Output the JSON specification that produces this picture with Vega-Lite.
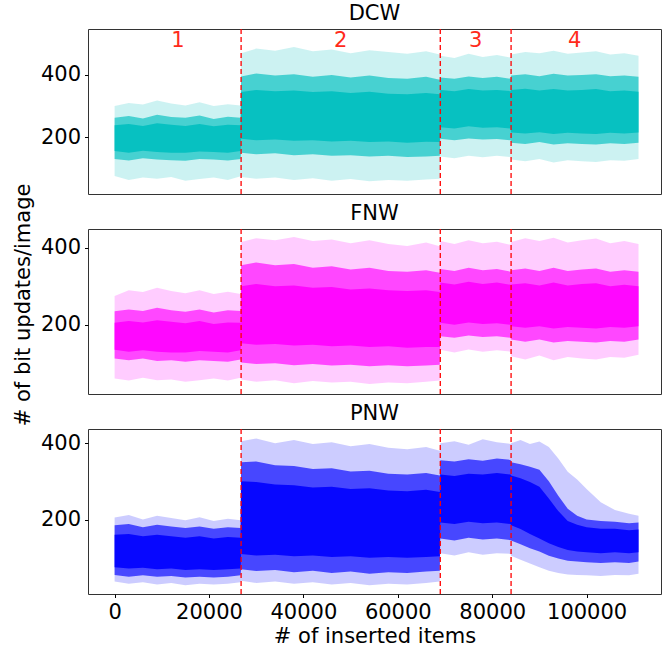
{
  "$schema": "https://vega.github.io/schema/vega-lite/v6.json",
  "autosize": {"type": "pad"},
  "padding": {"left": 12, "top": 2, "right": 0, "bottom": 0},
  "spacing": 6,
  "title": {"text": "# of bit updates/image", "orient": "left", "anchor": "middle", "fontSize": 21, "fontWeight": "normal", "font": "DejaVu Sans", "color": "#000000", "offset": 6, "dx": 20},
  "config": {
    "font": "DejaVu Sans",
    "view": {"stroke": "#333333", "strokeWidth": 1},
    "axis": {"labelFont": "DejaVu Sans", "labelFontSize": 21, "labelColor": "#000000", "tickColor": "#000000", "tickSize": 3.5, "tickWidth": 1, "domain": false, "grid": false, "titleFont": "DejaVu Sans", "titleFontSize": 21, "titleFontWeight": "normal", "titleColor": "#000000", "labelPadding": 4, "labelFlush": false},
    "title": {"font": "DejaVu Sans", "fontSize": 21, "fontWeight": "normal", "color": "#000000", "offset": 0}
  },
  "datasets": {
    "bands": [
      {"p":"DCW","x":0,"fhi":300,"mhi":262,"chi":238,"clo":155,"mlo":130,"flo":75},
      {"p":"DCW","x":3000,"fhi":310,"mhi":268,"chi":242,"clo":150,"mlo":125,"flo":62},
      {"p":"DCW","x":6000,"fhi":305,"mhi":260,"chi":236,"clo":156,"mlo":132,"flo":70},
      {"p":"DCW","x":9000,"fhi":318,"mhi":272,"chi":245,"clo":152,"mlo":128,"flo":66},
      {"p":"DCW","x":12000,"fhi":308,"mhi":265,"chi":240,"clo":150,"mlo":126,"flo":72},
      {"p":"DCW","x":15000,"fhi":302,"mhi":262,"chi":236,"clo":150,"mlo":124,"flo":60},
      {"p":"DCW","x":18000,"fhi":312,"mhi":270,"chi":242,"clo":154,"mlo":130,"flo":65},
      {"p":"DCW","x":21000,"fhi":300,"mhi":258,"chi":235,"clo":152,"mlo":128,"flo":70},
      {"p":"DCW","x":24000,"fhi":306,"mhi":266,"chi":240,"clo":150,"mlo":125,"flo":62},
      {"p":"DCW","x":26700,"fhi":302,"mhi":262,"chi":238,"clo":155,"mlo":130,"flo":74},
      {"p":"DCW","x":26800,"fhi":470,"mhi":395,"chi":345,"clo":195,"mlo":150,"flo":72},
      {"p":"DCW","x":30000,"fhi":485,"mhi":405,"chi":352,"clo":190,"mlo":145,"flo":66},
      {"p":"DCW","x":34000,"fhi":478,"mhi":398,"chi":348,"clo":192,"mlo":148,"flo":70},
      {"p":"DCW","x":38000,"fhi":490,"mhi":402,"chi":350,"clo":188,"mlo":142,"flo":62},
      {"p":"DCW","x":42000,"fhi":476,"mhi":394,"chi":345,"clo":190,"mlo":145,"flo":68},
      {"p":"DCW","x":46000,"fhi":482,"mhi":400,"chi":348,"clo":186,"mlo":140,"flo":60},
      {"p":"DCW","x":50000,"fhi":470,"mhi":392,"chi":342,"clo":188,"mlo":142,"flo":65},
      {"p":"DCW","x":54000,"fhi":480,"mhi":398,"chi":346,"clo":184,"mlo":138,"flo":58},
      {"p":"DCW","x":58000,"fhi":474,"mhi":390,"chi":340,"clo":186,"mlo":140,"flo":62},
      {"p":"DCW","x":62000,"fhi":468,"mhi":388,"chi":338,"clo":182,"mlo":136,"flo":60},
      {"p":"DCW","x":66000,"fhi":476,"mhi":394,"chi":342,"clo":185,"mlo":138,"flo":64},
      {"p":"DCW","x":68900,"fhi":466,"mhi":385,"chi":338,"clo":184,"mlo":140,"flo":66},
      {"p":"DCW","x":69000,"fhi":462,"mhi":392,"chi":352,"clo":232,"mlo":195,"flo":138},
      {"p":"DCW","x":72000,"fhi":455,"mhi":388,"chi":348,"clo":228,"mlo":190,"flo":132},
      {"p":"DCW","x":75000,"fhi":468,"mhi":395,"chi":355,"clo":235,"mlo":196,"flo":140},
      {"p":"DCW","x":78000,"fhi":458,"mhi":390,"chi":350,"clo":230,"mlo":192,"flo":135},
      {"p":"DCW","x":81000,"fhi":464,"mhi":394,"chi":352,"clo":232,"mlo":194,"flo":140},
      {"p":"DCW","x":83900,"fhi":456,"mhi":388,"chi":348,"clo":228,"mlo":190,"flo":136},
      {"p":"DCW","x":84000,"fhi":466,"mhi":398,"chi":352,"clo":215,"mlo":182,"flo":128},
      {"p":"DCW","x":87000,"fhi":474,"mhi":402,"chi":356,"clo":212,"mlo":178,"flo":122},
      {"p":"DCW","x":90000,"fhi":470,"mhi":396,"chi":350,"clo":216,"mlo":184,"flo":130},
      {"p":"DCW","x":93000,"fhi":478,"mhi":404,"chi":355,"clo":210,"mlo":176,"flo":118},
      {"p":"DCW","x":96000,"fhi":468,"mhi":398,"chi":350,"clo":214,"mlo":180,"flo":126},
      {"p":"DCW","x":99000,"fhi":472,"mhi":400,"chi":352,"clo":212,"mlo":178,"flo":122},
      {"p":"DCW","x":102000,"fhi":476,"mhi":402,"chi":355,"clo":210,"mlo":176,"flo":120},
      {"p":"DCW","x":105000,"fhi":466,"mhi":396,"chi":348,"clo":214,"mlo":180,"flo":126},
      {"p":"DCW","x":108000,"fhi":470,"mhi":398,"chi":350,"clo":212,"mlo":178,"flo":124},
      {"p":"DCW","x":111000,"fhi":462,"mhi":394,"chi":346,"clo":215,"mlo":182,"flo":130},

      {"p":"FNW","x":0,"fhi":275,"mhi":235,"chi":205,"clo":135,"mlo":112,"flo":60},
      {"p":"FNW","x":3000,"fhi":290,"mhi":240,"chi":210,"clo":130,"mlo":108,"flo":55},
      {"p":"FNW","x":6000,"fhi":285,"mhi":236,"chi":206,"clo":134,"mlo":112,"flo":62},
      {"p":"FNW","x":9000,"fhi":296,"mhi":244,"chi":212,"clo":130,"mlo":106,"flo":56},
      {"p":"FNW","x":12000,"fhi":288,"mhi":238,"chi":208,"clo":128,"mlo":108,"flo":58},
      {"p":"FNW","x":15000,"fhi":282,"mhi":234,"chi":204,"clo":128,"mlo":104,"flo":52},
      {"p":"FNW","x":18000,"fhi":290,"mhi":240,"chi":210,"clo":132,"mlo":108,"flo":56},
      {"p":"FNW","x":21000,"fhi":280,"mhi":232,"chi":202,"clo":130,"mlo":106,"flo":60},
      {"p":"FNW","x":24000,"fhi":286,"mhi":238,"chi":206,"clo":128,"mlo":104,"flo":55},
      {"p":"FNW","x":26700,"fhi":280,"mhi":236,"chi":205,"clo":134,"mlo":110,"flo":62},
      {"p":"FNW","x":26800,"fhi":415,"mhi":355,"chi":300,"clo":152,"mlo":102,"flo":58},
      {"p":"FNW","x":30000,"fhi":425,"mhi":362,"chi":306,"clo":148,"mlo":98,"flo":52},
      {"p":"FNW","x":34000,"fhi":420,"mhi":355,"chi":300,"clo":150,"mlo":100,"flo":56},
      {"p":"FNW","x":38000,"fhi":428,"mhi":358,"chi":302,"clo":146,"mlo":95,"flo":48},
      {"p":"FNW","x":42000,"fhi":418,"mhi":348,"chi":296,"clo":148,"mlo":98,"flo":54},
      {"p":"FNW","x":46000,"fhi":422,"mhi":352,"chi":298,"clo":144,"mlo":94,"flo":50},
      {"p":"FNW","x":50000,"fhi":412,"mhi":344,"chi":292,"clo":146,"mlo":96,"flo":52},
      {"p":"FNW","x":54000,"fhi":420,"mhi":348,"chi":294,"clo":142,"mlo":92,"flo":46},
      {"p":"FNW","x":58000,"fhi":410,"mhi":340,"chi":290,"clo":144,"mlo":95,"flo":50},
      {"p":"FNW","x":62000,"fhi":405,"mhi":338,"chi":288,"clo":140,"mlo":92,"flo":48},
      {"p":"FNW","x":66000,"fhi":414,"mhi":342,"chi":290,"clo":142,"mlo":94,"flo":52},
      {"p":"FNW","x":68900,"fhi":404,"mhi":335,"chi":285,"clo":142,"mlo":96,"flo":55},
      {"p":"FNW","x":69000,"fhi":418,"mhi":345,"chi":310,"clo":205,"mlo":170,"flo":135},
      {"p":"FNW","x":72000,"fhi":410,"mhi":340,"chi":305,"clo":200,"mlo":166,"flo":128},
      {"p":"FNW","x":75000,"fhi":420,"mhi":348,"chi":312,"clo":206,"mlo":172,"flo":136},
      {"p":"FNW","x":78000,"fhi":412,"mhi":342,"chi":306,"clo":202,"mlo":168,"flo":130},
      {"p":"FNW","x":81000,"fhi":416,"mhi":345,"chi":310,"clo":204,"mlo":170,"flo":134},
      {"p":"FNW","x":83900,"fhi":408,"mhi":338,"chi":304,"clo":200,"mlo":166,"flo":130},
      {"p":"FNW","x":84000,"fhi":415,"mhi":342,"chi":305,"clo":196,"mlo":162,"flo":118},
      {"p":"FNW","x":87000,"fhi":425,"mhi":346,"chi":308,"clo":192,"mlo":156,"flo":110},
      {"p":"FNW","x":90000,"fhi":418,"mhi":340,"chi":302,"clo":196,"mlo":162,"flo":120},
      {"p":"FNW","x":93000,"fhi":426,"mhi":348,"chi":310,"clo":190,"mlo":154,"flo":108},
      {"p":"FNW","x":96000,"fhi":414,"mhi":340,"chi":302,"clo":194,"mlo":158,"flo":116},
      {"p":"FNW","x":99000,"fhi":420,"mhi":344,"chi":306,"clo":192,"mlo":156,"flo":112},
      {"p":"FNW","x":102000,"fhi":424,"mhi":346,"chi":308,"clo":190,"mlo":154,"flo":110},
      {"p":"FNW","x":105000,"fhi":412,"mhi":338,"chi":300,"clo":194,"mlo":158,"flo":116},
      {"p":"FNW","x":108000,"fhi":418,"mhi":342,"chi":304,"clo":192,"mlo":156,"flo":114},
      {"p":"FNW","x":111000,"fhi":410,"mhi":338,"chi":300,"clo":196,"mlo":162,"flo":122},

      {"p":"PNW","x":0,"fhi":205,"mhi":185,"chi":160,"clo":75,"mlo":55,"flo":38},
      {"p":"PNW","x":3000,"fhi":212,"mhi":188,"chi":162,"clo":72,"mlo":50,"flo":32},
      {"p":"PNW","x":6000,"fhi":200,"mhi":180,"chi":156,"clo":74,"mlo":54,"flo":36},
      {"p":"PNW","x":9000,"fhi":210,"mhi":186,"chi":160,"clo":70,"mlo":50,"flo":30},
      {"p":"PNW","x":12000,"fhi":204,"mhi":182,"chi":156,"clo":72,"mlo":52,"flo":34},
      {"p":"PNW","x":15000,"fhi":198,"mhi":178,"chi":152,"clo":68,"mlo":48,"flo":28},
      {"p":"PNW","x":18000,"fhi":206,"mhi":182,"chi":156,"clo":70,"mlo":50,"flo":32},
      {"p":"PNW","x":21000,"fhi":196,"mhi":176,"chi":150,"clo":68,"mlo":48,"flo":30},
      {"p":"PNW","x":24000,"fhi":202,"mhi":180,"chi":154,"clo":70,"mlo":50,"flo":32},
      {"p":"PNW","x":26700,"fhi":198,"mhi":178,"chi":152,"clo":72,"mlo":54,"flo":36},
      {"p":"PNW","x":26800,"fhi":405,"mhi":350,"chi":300,"clo":110,"mlo":70,"flo":40},
      {"p":"PNW","x":30000,"fhi":412,"mhi":352,"chi":298,"clo":106,"mlo":65,"flo":34},
      {"p":"PNW","x":34000,"fhi":400,"mhi":342,"chi":292,"clo":108,"mlo":68,"flo":38},
      {"p":"PNW","x":38000,"fhi":408,"mhi":340,"chi":290,"clo":104,"mlo":62,"flo":32},
      {"p":"PNW","x":42000,"fhi":398,"mhi":332,"chi":284,"clo":106,"mlo":66,"flo":36},
      {"p":"PNW","x":46000,"fhi":402,"mhi":334,"chi":286,"clo":102,"mlo":60,"flo":30},
      {"p":"PNW","x":50000,"fhi":392,"mhi":326,"chi":280,"clo":104,"mlo":64,"flo":34},
      {"p":"PNW","x":54000,"fhi":398,"mhi":328,"chi":282,"clo":100,"mlo":58,"flo":28},
      {"p":"PNW","x":58000,"fhi":388,"mhi":320,"chi":276,"clo":102,"mlo":62,"flo":32},
      {"p":"PNW","x":62000,"fhi":384,"mhi":318,"chi":274,"clo":100,"mlo":60,"flo":30},
      {"p":"PNW","x":66000,"fhi":390,"mhi":322,"chi":278,"clo":102,"mlo":64,"flo":34},
      {"p":"PNW","x":68900,"fhi":380,"mhi":315,"chi":272,"clo":104,"mlo":66,"flo":38},
      {"p":"PNW","x":69000,"fhi":400,"mhi":355,"chi":318,"clo":192,"mlo":150,"flo":112},
      {"p":"PNW","x":72000,"fhi":405,"mhi":352,"chi":314,"clo":188,"mlo":145,"flo":106},
      {"p":"PNW","x":75000,"fhi":396,"mhi":358,"chi":320,"clo":194,"mlo":152,"flo":114},
      {"p":"PNW","x":78000,"fhi":410,"mhi":354,"chi":318,"clo":190,"mlo":148,"flo":108},
      {"p":"PNW","x":81000,"fhi":402,"mhi":360,"chi":322,"clo":192,"mlo":150,"flo":112},
      {"p":"PNW","x":83900,"fhi":398,"mhi":356,"chi":318,"clo":188,"mlo":146,"flo":110},
      {"p":"PNW","x":84000,"fhi":400,"mhi":350,"chi":315,"clo":185,"mlo":145,"flo":105},
      {"p":"PNW","x":86000,"fhi":408,"mhi":345,"chi":308,"clo":175,"mlo":135,"flo":95},
      {"p":"PNW","x":88000,"fhi":398,"mhi":338,"chi":298,"clo":162,"mlo":125,"flo":85},
      {"p":"PNW","x":90000,"fhi":404,"mhi":330,"chi":286,"clo":150,"mlo":116,"flo":75},
      {"p":"PNW","x":92000,"fhi":390,"mhi":300,"chi":255,"clo":138,"mlo":105,"flo":66},
      {"p":"PNW","x":94000,"fhi":360,"mhi":262,"chi":222,"clo":128,"mlo":98,"flo":60},
      {"p":"PNW","x":96000,"fhi":325,"mhi":228,"chi":196,"clo":120,"mlo":92,"flo":56},
      {"p":"PNW","x":98000,"fhi":305,"mhi":210,"chi":186,"clo":116,"mlo":90,"flo":55},
      {"p":"PNW","x":100000,"fhi":280,"mhi":200,"chi":180,"clo":114,"mlo":88,"flo":54},
      {"p":"PNW","x":103000,"fhi":245,"mhi":196,"chi":176,"clo":112,"mlo":86,"flo":52},
      {"p":"PNW","x":106000,"fhi":225,"mhi":194,"chi":176,"clo":114,"mlo":88,"flo":55},
      {"p":"PNW","x":109000,"fhi":215,"mhi":190,"chi":172,"clo":112,"mlo":86,"flo":54},
      {"p":"PNW","x":111000,"fhi":210,"mhi":192,"chi":174,"clo":114,"mlo":90,"flo":58}
    ],
    "splits": [{"x": 26800}, {"x": 69000}, {"x": 84000}],
    "labels": [
      {"x": 13400, "y": 509, "t": "1"},
      {"x": 47900, "y": 509, "t": "2"},
      {"x": 76500, "y": 509, "t": "3"},
      {"x": 97500, "y": 509, "t": "4"}
    ]
  },
  "vconcat": [
    {
      "title": "DCW",
      "width": 573,
      "height": 165,
      "layer": [
        {"data": {"name": "bands"}, "transform": [{"filter": "datum.p == 'DCW'"}],
         "mark": {"type": "area", "color": "#00bfbf", "opacity": 0.2},
         "encoding": {
           "x": {"field": "x", "type": "quantitative", "scale": {"domain": [-5636, 115763], "nice": false, "zero": false}, "axis": null},
           "y": {"field": "flo", "type": "quantitative", "scale": {"domain": [17, 548], "nice": false, "zero": false}, "axis": {"values": [200, 400], "title": null}},
           "y2": {"field": "fhi"}}},
        {"data": {"name": "bands"}, "transform": [{"filter": "datum.p == 'DCW'"}],
         "mark": {"type": "area", "color": "#00bfbf", "opacity": 0.65},
         "encoding": {"x": {"field": "x", "type": "quantitative"}, "y": {"field": "mlo", "type": "quantitative"}, "y2": {"field": "mhi"}}},
        {"data": {"name": "bands"}, "transform": [{"filter": "datum.p == 'DCW'"}],
         "mark": {"type": "area", "color": "#00bfbf", "opacity": 0.9},
         "encoding": {"x": {"field": "x", "type": "quantitative"}, "y": {"field": "clo", "type": "quantitative"}, "y2": {"field": "chi"}}},
        {"data": {"name": "splits"},
         "mark": {"type": "rule", "color": "#ff0000", "strokeDash": [5, 3], "strokeWidth": 1.3},
         "encoding": {"x": {"field": "x", "type": "quantitative"}}},
        {"data": {"name": "labels"},
         "mark": {"type": "text", "color": "#ff2a1a", "fontSize": 21, "font": "DejaVu Sans", "align": "center", "baseline": "middle"},
         "encoding": {"x": {"field": "x", "type": "quantitative"}, "y": {"field": "y", "type": "quantitative"}, "text": {"field": "t"}}}
      ]
    },
    {
      "title": "FNW",
      "width": 573,
      "height": 165,
      "layer": [
        {"data": {"name": "bands"}, "transform": [{"filter": "datum.p == 'FNW'"}],
         "mark": {"type": "area", "color": "#ff00ff", "opacity": 0.2},
         "encoding": {
           "x": {"field": "x", "type": "quantitative", "scale": {"domain": [-5636, 115763], "nice": false, "zero": false}, "axis": null},
           "y": {"field": "flo", "type": "quantitative", "scale": {"domain": [20, 449], "nice": false, "zero": false}, "axis": {"values": [200, 400], "title": null}},
           "y2": {"field": "fhi"}}},
        {"data": {"name": "bands"}, "transform": [{"filter": "datum.p == 'FNW'"}],
         "mark": {"type": "area", "color": "#ff00ff", "opacity": 0.65},
         "encoding": {"x": {"field": "x", "type": "quantitative"}, "y": {"field": "mlo", "type": "quantitative"}, "y2": {"field": "mhi"}}},
        {"data": {"name": "bands"}, "transform": [{"filter": "datum.p == 'FNW'"}],
         "mark": {"type": "area", "color": "#ff00ff", "opacity": 0.9},
         "encoding": {"x": {"field": "x", "type": "quantitative"}, "y": {"field": "clo", "type": "quantitative"}, "y2": {"field": "chi"}}},
        {"data": {"name": "splits"},
         "mark": {"type": "rule", "color": "#ff0000", "strokeDash": [5, 3], "strokeWidth": 1.3},
         "encoding": {"x": {"field": "x", "type": "quantitative"}}}
      ]
    },
    {
      "title": "PNW",
      "width": 573,
      "height": 165,
      "layer": [
        {"data": {"name": "bands"}, "transform": [{"filter": "datum.p == 'PNW'"}],
         "mark": {"type": "area", "color": "#0000ff", "opacity": 0.2},
         "encoding": {
           "x": {"field": "x", "type": "quantitative", "scale": {"domain": [-5636, 115763], "nice": false, "zero": false},
                 "axis": {"values": [0, 20000, 40000, 60000, 80000, 100000], "format": "d", "title": "# of inserted items", "titlePadding": 3}},
           "y": {"field": "flo", "type": "quantitative", "scale": {"domain": [5, 437], "nice": false, "zero": false}, "axis": {"values": [200, 400], "title": null}},
           "y2": {"field": "fhi"}}},
        {"data": {"name": "bands"}, "transform": [{"filter": "datum.p == 'PNW'"}],
         "mark": {"type": "area", "color": "#0000ff", "opacity": 0.65},
         "encoding": {"x": {"field": "x", "type": "quantitative"}, "y": {"field": "mlo", "type": "quantitative"}, "y2": {"field": "mhi"}}},
        {"data": {"name": "bands"}, "transform": [{"filter": "datum.p == 'PNW'"}],
         "mark": {"type": "area", "color": "#0000ff", "opacity": 0.9},
         "encoding": {"x": {"field": "x", "type": "quantitative"}, "y": {"field": "clo", "type": "quantitative"}, "y2": {"field": "chi"}}},
        {"data": {"name": "splits"},
         "mark": {"type": "rule", "color": "#ff0000", "strokeDash": [5, 3], "strokeWidth": 1.3},
         "encoding": {"x": {"field": "x", "type": "quantitative"}}}
      ]
    }
  ]
}
